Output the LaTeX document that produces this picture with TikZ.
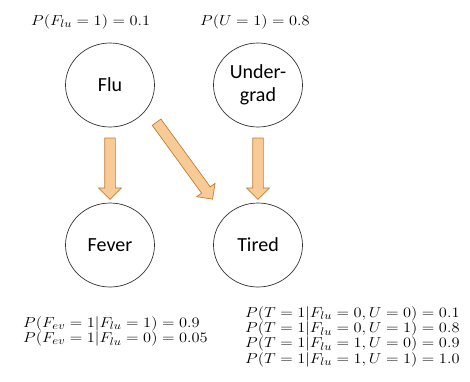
\documentclass[tikz,border=0pt]{standalone}
\usepackage{amsmath}
\usepackage{graphicx}
\usepackage{fontspec}
\newfontfamily\labelfont{Carlito}
\usetikzlibrary{shapes.geometric,shapes.arrows,calc,positioning}
\definecolor{arrowfill}{RGB}{248,203,150}
\definecolor{arrowline}{RGB}{193,126,54}

\newcommand{\fatlink}[2]{\path let \p1=($(#2)-(#1)$), \n1={veclen(\x1,\y1)} in (#1) -- (#2) node[fatarrow, midway, sloped, allow upside down, minimum height=\n1] {};}
\newcommand{\probtxt}[1]{\scalebox{1.14}[1]{$#1$}}

\begin{document}
\begin{tikzpicture}[x=1pt,y=-1pt,
  var/.style={ellipse, draw=black!80, line width=0.7pt, minimum width=89pt, minimum height=84pt, inner sep=0pt, align=center, font=\labelfont\fontsize{20}{23}\selectfont},
  prob/.style={anchor=base west, inner sep=0pt, font=\fontsize{15}{16}\selectfont},
  fatarrow/.style={single arrow, draw=arrowline, fill=arrowfill, line width=0.7pt, inner sep=5pt, single arrow head extend=6pt}]
\useasboundingbox (0,0) rectangle (470,381);

\node [var] (flu) at (110,85) {Flu};
\node [var] (ugrad) at (258,85) {Under-\\grad};
\node [var] (fever) at (110,245) {Fever};
\node [var] (tired) at (258,245) {Tired};

% arrow ends
\coordinate (flu-out) at ($(flu.south)+(0,8)$);
\coordinate (fever-in) at ($(fever.north)+(0,-6)$);
\coordinate (ugrad-out) at ($(ugrad.south)+(0,8)$);
\coordinate (tired-in) at ($(tired.north)+(0,-6)$);
\coordinate (flu-diag) at ($(flu)+(45,35)$);
\coordinate (tired-diag) at ($(tired)+(-47,-48)$);

\fatlink{flu-out}{fever-in}
\fatlink{ugrad-out}{tired-in}
\fatlink{flu-diag}{tired-diag}

\node [prob] (pflu) at (31,25) {\probtxt{P(F_{lu}=1)=0.1}};
\node [prob] (pugrad) at (200,25) {\probtxt{P(U=1)=0.8}};

\node [prob] (pfever1) at (23,327) {\probtxt{P(F_{ev}=1|F_{lu}=1)=0.9}};
\node [prob] (pfever0) at (23,342.4) {\probtxt{P(F_{ev}=1|F_{lu}=0)=0.05}};

\node [prob] (ptired00) at (245,317) {\probtxt{P(T=1|F_{lu}=0,U=0)=0.1}};
\node [prob] (ptired01) at (245,332.4) {\probtxt{P(T=1|F_{lu}=0,U=1)=0.8}};
\node [prob] (ptired10) at (245,347.8) {\probtxt{P(T=1|F_{lu}=1,U=0)=0.9}};
\node [prob] (ptired11) at (245,363.2) {\probtxt{P(T=1|F_{lu}=1,U=1)=1.0}};

\end{tikzpicture}
\end{document}
